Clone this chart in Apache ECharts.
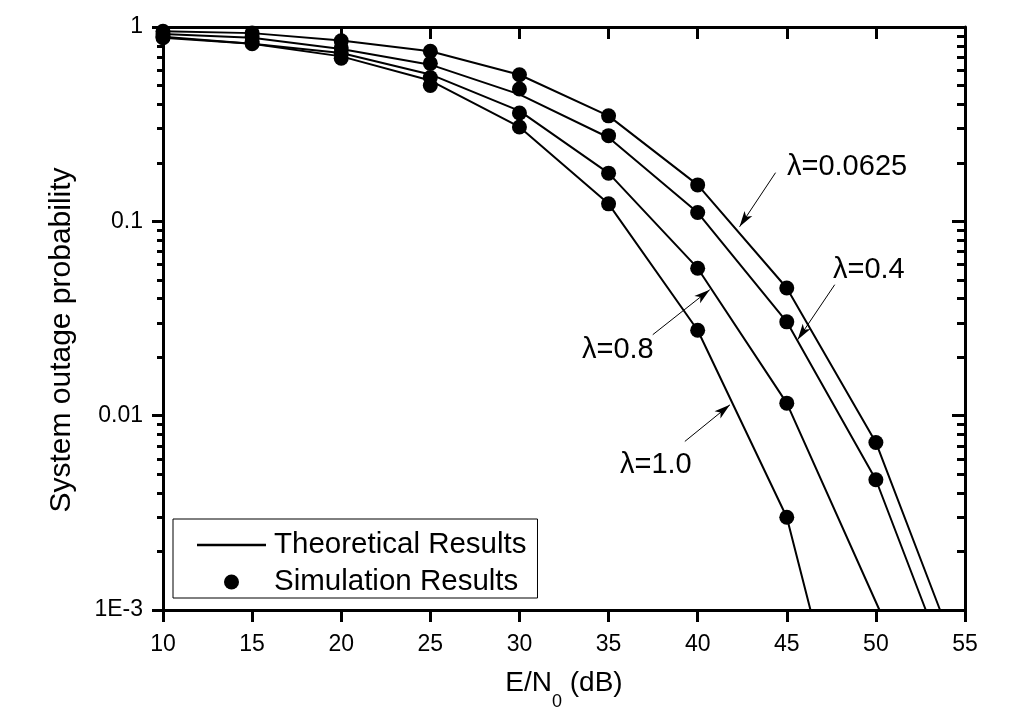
<!DOCTYPE html>
<html>
<head>
<meta charset="utf-8">
<script src="https://cdn.jsdelivr.net/npm/echarts@6/dist/echarts.min.js"></script>
<style>html,body{margin:0;padding:0;background:#fff;}#c{width:1030px;height:723px;}</style>
</head>
<body>
<div id="c"></div>
<script>
// ---- data ----
const snr = [10, 15, 20, 25, 30, 35, 40, 45, 50];
const sim_0625 = [0.95, 0.93, 0.85, 0.75, 0.568, 0.349, 0.154, 0.0454, 0.00728];
const sim_04   = [0.92, 0.89, 0.78, 0.65, 0.48, 0.276, 0.111, 0.0304, 0.00468];
const sim_08   = [0.89, 0.84, 0.73, 0.55, 0.361, 0.177, 0.0574, 0.0116, 0.00093];
const sim_10   = [0.88, 0.82, 0.69, 0.50, 0.306, 0.123, 0.0275, 0.0030];
const th_0625_x = [10, 15, 20, 25, 30, 35, 40, 45, 50, 53.6];
const th_0625   = [0.95, 0.93, 0.853, 0.75, 0.568, 0.349, 0.154, 0.0454, 0.00728, 0.001];
const th_04_x   = [10, 15, 20, 25, 30, 35, 40, 45, 50, 52.8];
const th_04     = [0.92, 0.88, 0.77, 0.64, 0.45, 0.27, 0.111, 0.0304, 0.00468, 0.001];
const th_08_x   = [10, 15, 20, 25, 30, 35, 40, 45, 50.2];
const th_08     = [0.89, 0.82, 0.735, 0.57, 0.37, 0.177, 0.0574, 0.0116, 0.001];
const th_10_x   = [10, 15, 20, 25, 30, 35, 40, 45, 46.33];
const th_10     = [0.88, 0.82, 0.706, 0.53, 0.306, 0.123, 0.0275, 0.0030, 0.001];
const yTickValues = [1, 0.1, 0.01, 0.001];
const yTickLabels = ['1', '0.1', '0.01', '1E-3'];
const curveLabels = ['\u03bb=0.0625', '\u03bb=0.4', '\u03bb=0.8', '\u03bb=1.0'];
// arrow [start, tip] in data coordinates
const arrows = [
  [[44.37, 0.178], [42.35, 0.0937]],
  [[47.69, 0.0472], [45.61, 0.0246]],
  [[37.48, 0.0261], [40.68, 0.0445]],
  [[39.28, 0.00737], [41.81, 0.01137]]
];

const FONT = '"Liberation Sans", Arial, sans-serif';
const pair = (xs, ys) => ys.map((v, i) => [xs[i], v]);

const chart = echarts.init(document.getElementById('c'), null, {renderer: 'canvas'});

const lineSeries = [[th_0625_x, th_0625], [th_04_x, th_04], [th_08_x, th_08], [th_10_x, th_10]].map(([xs, ys]) => ({
  name: 'Theoretical Results', type: 'line', symbol: 'none', clip: true,
  lineStyle: {color: '#000', width: 2}, itemStyle: {color: '#000'},
  data: pair(xs, ys), z: 3
}));
const scatterSeries = [sim_0625, sim_04, sim_08, sim_10].map(ys => ({
  name: 'Simulation Results', type: 'scatter', symbol: 'circle', symbolSize: 15, clip: true,
  itemStyle: {color: '#000', opacity: 1}, data: pair(snr, ys), z: 4
}));
const arrowSeries = {
  type: 'line', data: [], silent: true,
  markLine: {
    silent: true, symbol: ['none', 'arrow'], symbolSize: [7, 16],
    lineStyle: {color: '#000', width: 1, type: 'solid'}, label: {show: false},
    data: arrows.map(a => [{coord: a[0]}, {coord: a[1]}])
  }
};

const labelFmt = v => {
  for (let i = 0; i < yTickValues.length; i++) if (Math.abs(Math.log10(v) - Math.log10(yTickValues[i])) < 1e-6) return yTickLabels[i];
  return '';
};

chart.setOption({
  animation: false,
  backgroundColor: '#fff',
  grid: {left: 163, right: 65, top: 27, bottom: 113, containLabel: false},
  legend: {
    left: 173, top: 519, orient: 'vertical',
    data: [
      {name: 'Theoretical Results', icon: 'path://M0,0 L69,0 L69,2.5 L0,2.5 Z', itemStyle: {color: '#000', borderWidth: 0}},
      {name: 'Simulation Results', icon: 'circle', itemStyle: {color: '#000', borderWidth: 0}}
    ],
    itemWidth: 69, itemHeight: 15, itemGap: 7,
    borderColor: '#000', borderWidth: 1, borderRadius: 0,
    padding: [11, 11, 1, 24],
    textStyle: {fontFamily: FONT, fontSize: 29.5, color: '#000', lineHeight: 30, padding: [0, 0, 0, 3]},
    selectedMode: false
  },
  xAxis: [{
    type: 'value', min: 10, max: 55, interval: 5, position: 'bottom',
    axisLine: {show: true, onZero: false, lineStyle: {color: '#000', width: 3}},
    axisTick: {show: true, inside: false, length: 12, lineStyle: {color: '#000', width: 3}},
    axisLabel: {fontFamily: FONT, fontSize: 23, color: '#000', margin: 23},
    splitLine: {show: false},
    name: '{a|E/N}{s|0}{a| (dB)}', nameLocation: 'middle', nameGap: 59,
    nameTextStyle: {rich: {
      a: {fontFamily: FONT, fontSize: 28, color: '#000', verticalAlign: 'top', lineHeight: 32},
      s: {fontFamily: FONT, fontSize: 18, color: '#000', verticalAlign: 'top', lineHeight: 20, padding: [24, 0, 0, 0]}
    }}
  }, {
    type: 'value', min: 10, max: 55, interval: 5, position: 'top',
    axisLine: {show: true, onZero: false, lineStyle: {color: '#000', width: 3}},
    axisTick: {show: true, inside: true, length: 12, lineStyle: {color: '#000', width: 3}},
    axisLabel: {show: false}, splitLine: {show: false}
  }],
  yAxis: [{
    type: 'log', logBase: 10, min: 0.001, max: 1, position: 'left',
    axisLine: {show: true, onZero: false, lineStyle: {color: '#000', width: 3}},
    axisTick: {show: true, inside: false, length: 11, lineStyle: {color: '#000', width: 3}},
    minorTick: {show: true, splitNumber: 9, length: 6, lineStyle: {color: '#000', width: 3}},
    axisLabel: {fontFamily: FONT, fontSize: 23, color: '#000', margin: 20, formatter: labelFmt},
    splitLine: {show: false}, minorSplitLine: {show: false}
  }, {
    type: 'log', logBase: 10, min: 0.001, max: 1, position: 'right',
    axisLine: {show: true, onZero: false, lineStyle: {color: '#000', width: 3}},
    axisTick: {show: true, inside: true, length: 13, lineStyle: {color: '#000', width: 3}},
    minorTick: {show: true, splitNumber: 9, length: 8, lineStyle: {color: '#000', width: 3}},
    axisLabel: {show: false}, splitLine: {show: false}, minorSplitLine: {show: false}
  }],
  graphic: [
    {type: 'text', x: 62, y: 340, rotation: Math.PI / 2,
     style: {text: 'System outage probability', font: '30px ' + FONT, fill: '#000', align: 'center', verticalAlign: 'middle'}},
    {type: 'text', x: 787, y: 167, style: {text: curveLabels[0], font: '29px ' + FONT, fill: '#000', align: 'left', verticalAlign: 'middle'}},
    {type: 'text', x: 833, y: 270, style: {text: curveLabels[1], font: '29px ' + FONT, fill: '#000', align: 'left', verticalAlign: 'middle'}},
    {type: 'text', x: 582, y: 350, style: {text: curveLabels[2], font: '29px ' + FONT, fill: '#000', align: 'left', verticalAlign: 'middle'}},
    {type: 'text', x: 620, y: 465, style: {text: curveLabels[3], font: '29px ' + FONT, fill: '#000', align: 'left', verticalAlign: 'middle'}}
  ],
  series: [...lineSeries, ...scatterSeries, arrowSeries]
});
</script>
</body>
</html>
